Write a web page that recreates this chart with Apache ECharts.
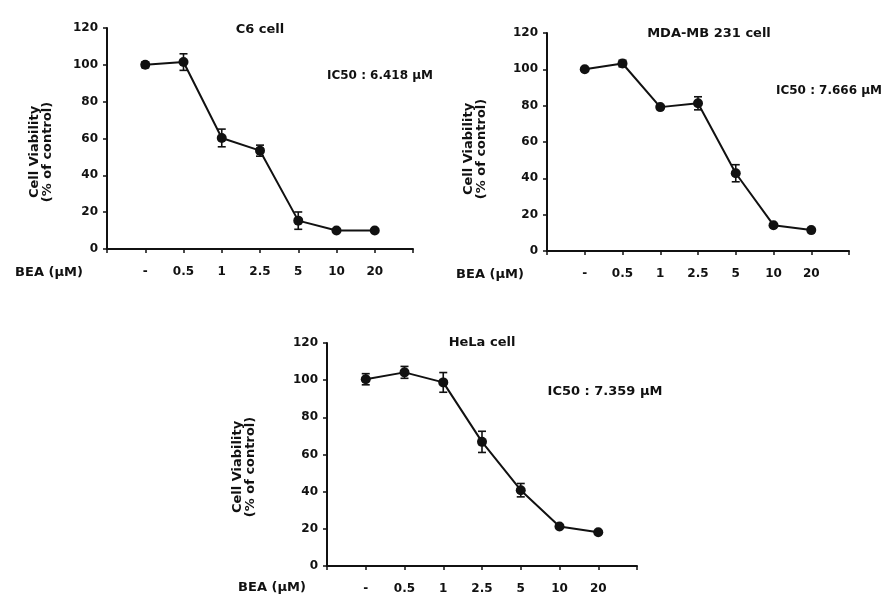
<!DOCTYPE html>
<html>
<head>
<meta charset="utf-8">
<script src="https://cdn.jsdelivr.net/npm/echarts@6/dist/echarts.min.js"></script>
<style>
html,body{margin:0;padding:0;background:#fff;}
#chart{width:894px;height:607px;}
</style>
</head>
<body>
<div id="chart"></div>
<script>
// ---- data ----
const categories = ['-', '0.5', '1', '2.5', '5', '10', '20'];
const yTicks = [0, 20, 40, 60, 80, 100, 120];

const c6Values = [100, 101.5, 60.3, 53.4, 15.4, 10, 10];
const c6Errors = [1.5, 4.5, 4.8, 3.0, 4.7, 0, 0];

const mdaValues = [100, 103.2, 79.2, 81.3, 42.8, 14.2, 11.5];
const mdaErrors = [0, 1.8, 0.8, 3.6, 4.7, 0, 0];

const helaValues = [100.5, 104.2, 98.8, 66.8, 40.8, 21.3, 18.2];
const helaErrors = [3.0, 3.2, 5.3, 5.7, 3.6, 0, 0];

const titles = ['C6 cell', 'MDA-MB 231 cell', 'HeLa cell'];
const ic50Texts = ['IC50 : 6.418 \u03bcM', 'IC50 : 7.666 \u03bcM', 'IC50 : 7.359 \u03bcM'];
const xAxisTitle = 'BEA (\u03bcM)';
const yAxisTitle = 'Cell Viability\n(% of control)';

// ---- layout ----
const FONT = '"DejaVu Sans", "Liberation Sans", Arial, sans-serif';
const INK = '#111';
const grids = [
  {left: 107, top: 28, width: 306, height: 221},
  {left: 547, top: 33, width: 302, height: 218},
  {left: 327, top: 343, width: 310, height: 223}
];
const seriesValues = [c6Values, mdaValues, helaValues];
const seriesErrors = [c6Errors, mdaErrors, helaErrors];

const xAxes = grids.map((g, i) => ({
  gridIndex: i, type: 'value', min: 0, max: categories.length + 1, interval: 1,
  axisLine: {show: true, lineStyle: {color: INK, width: 2}},
  axisTick: {show: true, length: 4, lineStyle: {color: INK, width: 1.5}},
  splitLine: {show: false},
  axisLabel: {
    margin: 17, color: INK, fontFamily: FONT, fontWeight: 'bold', fontSize: 12,
    showMinLabel: true, showMaxLabel: true,
    formatter: v => (v >= 1 && v <= categories.length) ? categories[v - 1] : ''
  }
}));
const yAxes = grids.map((g, i) => ({
  gridIndex: i, type: 'value', min: yTicks[0], max: yTicks[yTicks.length - 1], interval: 20,
  axisLine: {show: true, lineStyle: {color: INK, width: 2}},
  axisTick: {show: true, length: 4, lineStyle: {color: INK, width: 1.5}},
  splitLine: {show: false},
  axisLabel: {margin: 9, color: INK, fontFamily: FONT, fontWeight: 'bold', fontSize: 12}
}));

const series = [];
seriesValues.forEach((vals, i) => {
  series.push({
    type: 'line', xAxisIndex: i, yAxisIndex: i,
    data: vals.map((v, k) => [k + 1, v]),
    symbol: 'circle', symbolSize: 10,
    lineStyle: {color: INK, width: 2},
    itemStyle: {color: INK},
    z: 3, animation: false
  });
  series.push({
    type: 'custom', xAxisIndex: i, yAxisIndex: i,
    data: vals.map((v, k) => [k + 1, v, seriesErrors[i][k]]),
    renderItem: (params, api) => {
      const x = api.value(0), y = api.value(1), e = api.value(2);
      if (!e) return null;
      const top = api.coord([x, y + e]);
      const bot = api.coord([x, y - e]);
      const hw = 4;
      const st = {stroke: INK, lineWidth: 1.6};
      return {type: 'group', children: [
        {type: 'line', shape: {x1: top[0], y1: top[1], x2: bot[0], y2: bot[1]}, style: st},
        {type: 'line', shape: {x1: top[0] - hw, y1: top[1], x2: top[0] + hw, y2: top[1]}, style: st},
        {type: 'line', shape: {x1: bot[0] - hw, y1: bot[1], x2: bot[0] + hw, y2: bot[1]}, style: st}
      ]};
    },
    z: 4, animation: false
  });
});

function txt(x, y, text, size, extra) {
  return Object.assign({
    type: 'text', x: x, y: y,
    style: {text: text, fill: INK, font: 'bold ' + size + 'px ' + FONT, align: 'center', verticalAlign: 'middle'}
  }, extra || {});
}
function rot(x, y) {
  return {
    type: 'text', x: x, y: y, rotation: Math.PI / 2,
    style: {text: yAxisTitle, fill: INK, font: 'bold 13px ' + FONT, align: 'center', verticalAlign: 'middle', lineHeight: 13}
  };
}

const graphic = [
  txt(260, 30, titles[0], 13),
  txt(709, 34, titles[1], 13),
  txt(482, 343, titles[2], 13),
  txt(380, 76, ic50Texts[0], 12),
  txt(829, 91, ic50Texts[1], 12),
  txt(605, 392, ic50Texts[2], 13),
  txt(49, 273, xAxisTitle, 13),
  txt(490, 275, xAxisTitle, 13),
  txt(272, 588, xAxisTitle, 13),
  rot(41, 152),
  rot(475, 149),
  rot(244, 467)
];

const chart = echarts.init(document.getElementById('chart'));
chart.setOption({
  animation: false,
  backgroundColor: '#fff',
  grid: grids,
  xAxis: xAxes,
  yAxis: yAxes,
  series: series,
  graphic: graphic
});
</script>
</body>
</html>
